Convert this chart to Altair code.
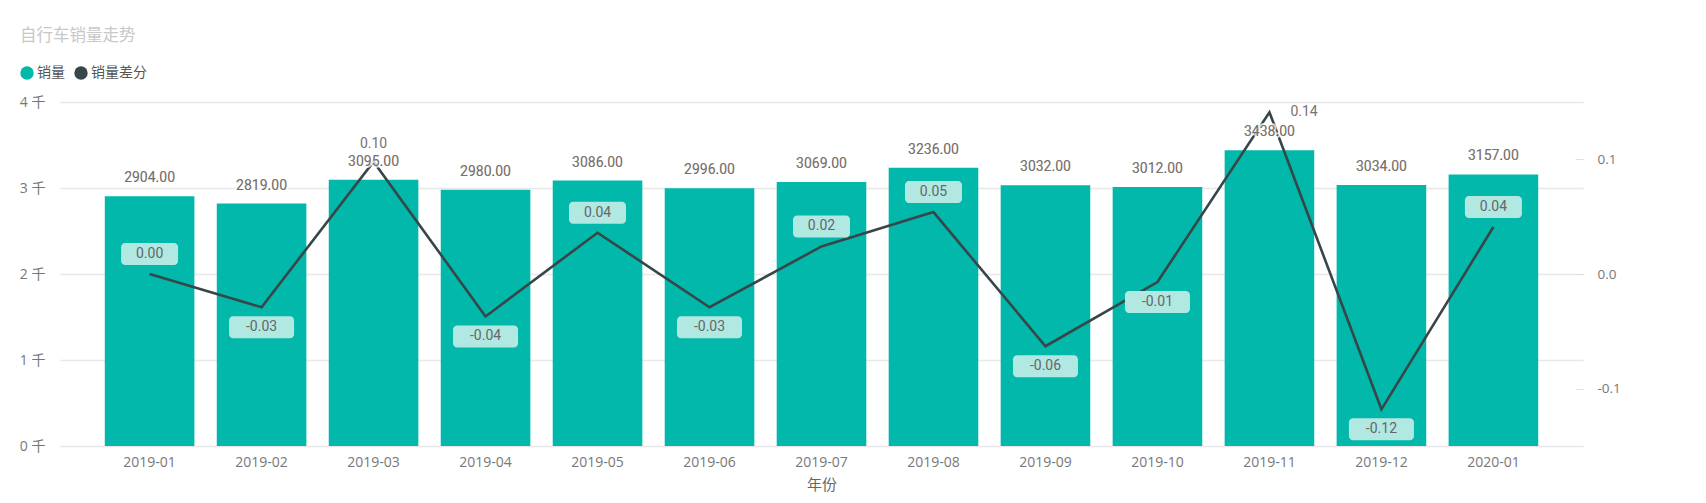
import altair as alt
import pandas as pd

# ---- data ----
months = ["2019-01", "2019-02", "2019-03", "2019-04", "2019-05", "2019-06", "2019-07",
          "2019-08", "2019-09", "2019-10", "2019-11", "2019-12", "2020-01"]
sales = [2904, 2819, 3095, 2980, 3086, 2996, 3069, 3236, 3032, 3012, 3438, 3034, 3157]
diff = [0.0, -0.029, 0.098, -0.037, 0.036, -0.029, 0.024, 0.054, -0.063, -0.007, 0.141, -0.118, 0.041]
left_ticks = [0, 1000, 2000, 3000, 4000]
right_ticks = [-0.1, 0.0, 0.1]

TEAL = "#01B8AA"
DARK = "#374649"
BOX = "#b2e8e2"
LABEL_GREY = "#7a716c"
AXIS_GREY = "#777777"
CJK = "'Open Sans', 'Noto Sans CJK SC', sans-serif"
NUM = "Roboto, 'Noto Sans', sans-serif"

df = pd.DataFrame({"month": months, "sales": sales, "diff": diff})
df["series"] = "销量"
df["slabel"] = [f"{v:.2f}" for v in sales]
df["dlabel"] = [f"{v:.2f}" for v in diff]
df["bw"] = df["dlabel"].str.len() * 8 + 25

# where each difference label goes: inside the bar in a box, or plain outside
pt_units = (df["diff"] + 0.15) / 0.3 * 4000
place = []
for d, p, s in zip(df["diff"], pt_units, df["sales"]):
    if d < 0:
        place.append("below")
    elif p + 360 <= s:
        place.append("above")
    elif d > 0.12:
        place.append("right")
    else:
        place.append("plain")
df["place"] = place

x = alt.X("month:N", sort=months, title="年份",
          scale=alt.Scale(paddingInner=0.2, paddingOuter=0.4),
          axis=alt.Axis(labelAngle=0, ticks=False, domain=False, labelPadding=9,
                        labelFont=CJK, labelFontSize=14, labelColor=AXIS_GREY,
                        titleFont=CJK, titleFontSize=15, titleFontWeight="normal",
                        titleColor="#666666", titlePadding=8))

y_left_scale = alt.Scale(domain=[0, 4000], nice=False, zero=False)
y_right_scale = alt.Scale(domain=[-0.15, 0.15], nice=False, zero=False)

y_left = alt.Y("sales:Q", scale=y_left_scale,
               axis=alt.Axis(values=left_ticks, labelExpr="datum.value / 1000 + ' 千'",
                             title=None, ticks=False, domain=False, grid=True,
                             gridColor="#e8e8e8", gridWidth=1.5, labelPadding=15,
                             labelFont=CJK, labelFontSize=14, labelColor=AXIS_GREY))
y_left_noaxis = alt.Y("sales:Q", scale=y_left_scale, axis=None)

y_right = alt.Y("diff:Q", scale=y_right_scale,
                axis=alt.Axis(orient="right", values=right_ticks,
                              labelExpr="replace(format(datum.value, '.1f'), '\u2212', '-')",
                              title=None, grid=False, domain=False, ticks=True,
                              tickColor="#e0e0e0", tickSize=8, offset=-8, labelPadding=14,
                              labelFont=CJK, labelFontSize=13.5, labelColor=AXIS_GREY))
y_right_noaxis = alt.Y("diff:Q", scale=y_right_scale, axis=None)

base = alt.Chart(df)

bars = base.mark_bar(size=89.6).encode(
    x=x, y=y_left,
    color=alt.Color("series:N",
                    scale=alt.Scale(domain=["销量", "销量差分"], range=[TEAL, DARK]),
                    legend=alt.Legend(orient="none", legendX=-40, legendY=-36,
                                      direction="horizontal", title=None,
                                      symbolType="circle", symbolSize=180,
                                      symbolStrokeWidth=0, labelFont=CJK,
                                      labelFontSize=14, labelColor="#555555",
                                      columnPadding=9, labelOffset=3, padding=0)),
)

line = base.mark_line(color=DARK, strokeWidth=2.6).encode(x=x, y=y_right)

bar_halo = base.mark_text(dy=-18, baseline="middle", font=NUM, fontSize=14,
                          stroke="white", strokeWidth=4, strokeOpacity=0.75,
                          strokeJoin="round").encode(x=x, y=y_left_noaxis, text="slabel:N")
bar_text = base.mark_text(dy=-18, baseline="middle", font=NUM, fontSize=14,
                          color=LABEL_GREY).encode(x=x, y=y_left_noaxis, text="slabel:N")

size_enc = alt.Size("bw:Q", scale=None, legend=None)
box_above = base.transform_filter(alt.datum.place == "above").mark_bar(
    color=BOX, cornerRadius=4, yOffset=-31, y2Offset=-9
).encode(x=x, y=y_right_noaxis, y2="diff:Q", size=size_enc)
box_below = base.transform_filter(alt.datum.place == "below").mark_bar(
    color=BOX, cornerRadius=4, yOffset=9, y2Offset=31
).encode(x=x, y=y_right_noaxis, y2="diff:Q", size=size_enc)

txt_above = base.transform_filter(alt.datum.place == "above").mark_text(
    dy=-20, baseline="middle", font=NUM, fontSize=14, color="#666666"
).encode(x=x, y=y_right_noaxis, text="dlabel:N")
txt_below = base.transform_filter(alt.datum.place == "below").mark_text(
    dy=20, baseline="middle", font=NUM, fontSize=14, color="#666666"
).encode(x=x, y=y_right_noaxis, text="dlabel:N")
txt_plain = base.transform_filter(alt.datum.place == "plain").mark_text(
    dy=-18, baseline="middle", font=NUM, fontSize=14, color=LABEL_GREY
).encode(x=x, y=y_right_noaxis, text="dlabel:N")
txt_right = base.transform_filter(alt.datum.place == "right").mark_text(
    dx=21, align="left", baseline="middle", font=NUM, fontSize=14, color=LABEL_GREY
).encode(x=x, y=y_right_noaxis, text="dlabel:N")

chart = alt.layer(
    bars, line, bar_halo, bar_text, box_above, box_below,
    txt_above, txt_below, txt_plain, txt_right
).resolve_scale(y="independent").properties(
    width=1523, height=344,
    autosize=alt.AutoSizeParams(type="none"),
    padding={"left": 60, "top": 102, "right": 123, "bottom": 57},
    title=alt.Title("自行车销量走势", anchor="start", frame="group", dx=-40,
                    offset=22, font=CJK, fontSize=16.5, fontWeight="normal",
                    color="#c8c8c8"),
    background="white",
).configure_view(stroke=None)

chart.save("out.html", embed_options={"renderer": "svg", "actions": False})
